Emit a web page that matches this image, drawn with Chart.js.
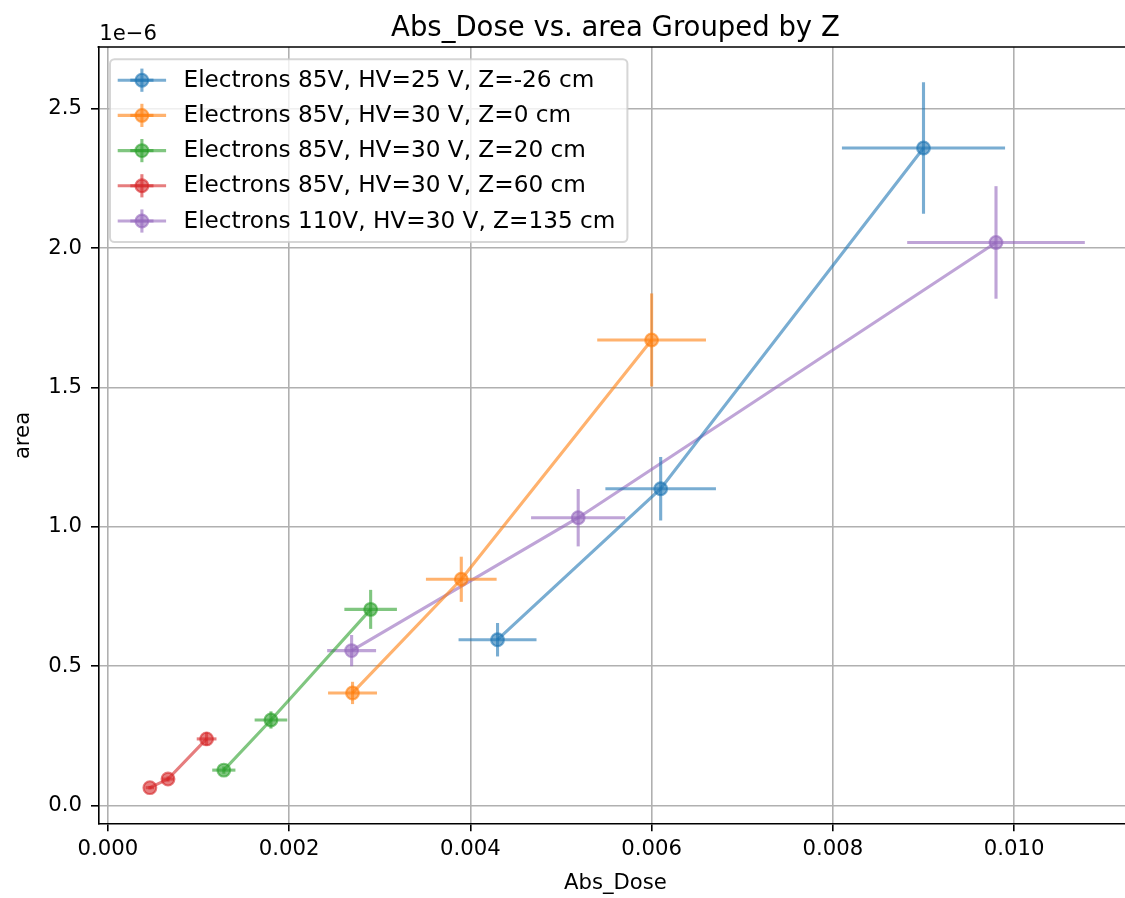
<!DOCTYPE html>
<html><head><meta charset="utf-8">
<script src="https://cdn.jsdelivr.net/npm/chart.js@4/dist/chart.umd.min.js"></script>
<style>
html,body{margin:0;padding:0;background:#fff;overflow:hidden;width:1125px;height:898px}
#wrap{width:1125px;height:898px;overflow:hidden;position:relative}
canvas{display:block}
</style></head>
<body><div id="wrap"><canvas id="c" width="1141" height="898" style="width:1141px;height:898px"></canvas></div>
<script>
// ---- data (area values in units of 1e-6) ----
const seriesNames = [
  'Electrons 85V, HV=25 V, Z=-26 cm',
  'Electrons 85V, HV=30 V, Z=0 cm',
  'Electrons 85V, HV=30 V, Z=20 cm',
  'Electrons 85V, HV=30 V, Z=60 cm',
  'Electrons 110V, HV=30 V, Z=135 cm'
];
const doseZm26 = [0.0043, 0.0061, 0.0090];
const areaZm26 = [0.595, 1.137, 2.36];
const doseErrZm26 = [0.00043, 0.00061, 0.00090];
const areaErrZm26 = [0.060, 0.114, 0.236];

const doseZ0 = [0.0027, 0.0039, 0.0060];
const areaZ0 = [0.404, 0.812, 1.671];
const doseErrZ0 = [0.00027, 0.00039, 0.00060];
const areaErrZ0 = [0.040, 0.081, 0.167];

const doseZ20 = [0.00128, 0.0018, 0.0029];
const areaZ20 = [0.127, 0.307, 0.704];
const doseErrZ20 = [0.000128, 0.00018, 0.00029];
const areaErrZ20 = [0.013, 0.031, 0.070];

const doseZ60 = [0.000464, 0.000664, 0.00109];
const areaZ60 = [0.064, 0.095, 0.239];
const doseErrZ60 = [0.000046, 0.000066, 0.000109];
const areaErrZ60 = [0.0064, 0.0095, 0.024];

const doseZ135 = [0.00269, 0.00519, 0.0098];
const areaZ135 = [0.556, 1.033, 2.021];
const doseErrZ135 = [0.00027, 0.00052, 0.00098];
const areaErrZ135 = [0.056, 0.103, 0.202];

const xTicks = [0, 0.002, 0.004, 0.006, 0.008, 0.010];
const yTicks = [0, 0.5, 1.0, 1.5, 2.0, 2.5];
const yOffsetText = '1e\u22126';
const chartTitle = 'Abs_Dose vs. area Grouped by Z';
const xLabel = 'Abs_Dose';
const yLabel = 'area';

// ---- styling ----
const FONT = 'DejaVu Sans';
const TICK_FS = 21.2;
const RGB = ['31,119,180','255,127,14','44,160,44','214,39,40','148,103,189'];
const ALPHA = 0.6;
const LW = 3.1;
const MR = 6.4;

const groups = [
  [doseZm26, areaZm26, doseErrZm26, areaErrZm26],
  [doseZ0, areaZ0, doseErrZ0, areaErrZ0],
  [doseZ20, areaZ20, doseErrZ20, areaErrZ20],
  [doseZ60, areaZ60, doseErrZ60, areaErrZ60],
  [doseZ135, areaZ135, doseErrZ135, areaErrZ135]
];

const datasets = groups.map((g, k) => {
  const col = 'rgba(' + RGB[k] + ',' + ALPHA + ')';
  return {
    label: seriesNames[k],
    data: g[0].map((x, i) => ({x: x, y: g[1][i]})),
    xerr: g[2], yerr: g[3],
    showLine: true,
    borderColor: col, backgroundColor: col,
    borderWidth: LW,
    pointRadius: MR, pointBorderWidth: 2.1,
    pointBackgroundColor: col, pointBorderColor: col,
    pointHoverRadius: MR
  };
});

const errPlugin = {
  id: 'errbars',
  beforeDatasetDraw(chart, args) {
    const ds = chart.data.datasets[args.index];
    const xs = chart.scales.x, ys = chart.scales.y, ctx = chart.ctx;
    ctx.save();
    ctx.strokeStyle = ds.borderColor; ctx.lineWidth = LW; ctx.lineCap = 'butt';
    ds.data.forEach((p, i) => {
      const px = xs.getPixelForValue(p.x), py = ys.getPixelForValue(p.y);
      ctx.beginPath();
      ctx.moveTo(xs.getPixelForValue(p.x - ds.xerr[i]), py);
      ctx.lineTo(xs.getPixelForValue(p.x + ds.xerr[i]), py);
      ctx.stroke();
      ctx.beginPath();
      ctx.moveTo(px, ys.getPixelForValue(p.y - ds.yerr[i]));
      ctx.lineTo(px, ys.getPixelForValue(p.y + ds.yerr[i]));
      ctx.stroke();
    });
    ctx.restore();
  }
};

const decorPlugin = {
  id: 'decor',
  afterDatasetsDraw(chart) {
    const ctx = chart.ctx, a = chart.chartArea;
    ctx.save();
    // top and right spines
    ctx.strokeStyle = '#000'; ctx.lineWidth = 1.6;
    ctx.beginPath();
    ctx.moveTo(a.left - 0.8, a.top); ctx.lineTo(a.right, a.top); ctx.lineTo(a.right, a.bottom);
    ctx.stroke();
    // title
    ctx.fillStyle = '#000';
    ctx.font = '27.5px "' + FONT + '"';
    ctx.textAlign = 'center'; ctx.textBaseline = 'alphabetic';
    ctx.fillText(chartTitle, (a.left + a.right) / 2, 36);
    // offset text
    ctx.font = TICK_FS + 'px "' + FONT + '"';
    ctx.textAlign = 'left';
    ctx.fillText(yOffsetText, a.left + 1, 40);

    // legend
    const fs = 23.2;
    ctx.font = fs + 'px "' + FONT + '"';
    const pad = 9.2, hl = 46.4, ls = 11.6, rowH = 23.6;
    let maxW = 0;
    chart.data.datasets.forEach(d => { maxW = Math.max(maxW, ctx.measureText(d.label).width); });
    const fx = a.left + 11.7, fy = a.top + 12.2;
    const n = chart.data.datasets.length;
    const textX = a.left + 85.2;
    const fw = textX + maxW + 12 - fx;
    const fh = pad * 2 + n * rowH + (n - 1) * ls;
    ctx.beginPath();
    ctx.roundRect(fx, fy, fw, fh, 4.5);
    ctx.fillStyle = 'rgba(255,255,255,0.8)'; ctx.fill();
    ctx.strokeStyle = 'rgba(204,204,204,0.8)'; ctx.lineWidth = 2; ctx.stroke();
    chart.data.datasets.forEach((d, k) => {
      const cy = fy + pad + k * (rowH + ls) + rowH / 2;
      const x0 = fx + pad - 1.5, x1 = x0 + hl + 2, cx = (x0 + x1) / 2;
      ctx.strokeStyle = d.borderColor; ctx.lineWidth = LW;
      ctx.beginPath(); ctx.moveTo(cx - 0.5 * fs, cy); ctx.lineTo(cx + 0.5 * fs, cy); ctx.stroke();
      ctx.beginPath(); ctx.moveTo(cx, cy - 0.5 * fs); ctx.lineTo(cx, cy + 0.5 * fs); ctx.stroke();
      ctx.beginPath(); ctx.moveTo(x0, cy); ctx.lineTo(x1, cy); ctx.stroke();
      ctx.beginPath(); ctx.arc(cx, cy, MR, 0, Math.PI * 2);
      ctx.fillStyle = d.borderColor; ctx.fill();
      ctx.lineWidth = 2.1; ctx.stroke();
      ctx.fillStyle = '#000'; ctx.textAlign = 'left'; ctx.textBaseline = 'middle';
      ctx.fillText(d.label, textX, cy + 0.5);
    });
    ctx.restore();
  }
};

// axis limits (matplotlib autoscale with 5% margins)
const XMIN = -0.000105, XMAX = 0.011306;
const YMIN = -0.0664, YMAX = 2.7225;

new Chart(document.getElementById('c'), {
  type: 'scatter',
  data: { datasets: datasets },
  plugins: [errPlugin, decorPlugin],
  options: {
    responsive: false, animation: false,
    layout: { padding: { top: 47, left: 0, right: 0, bottom: 0 } },
    plugins: { legend: { display: false }, title: { display: false }, tooltip: { enabled: false } },
    scales: {
      x: {
        type: 'linear', min: XMIN, max: XMAX,
        afterBuildTicks: s => { s.ticks = xTicks.map(v => ({ value: v })); },
        afterFit: s => { s.height = 74; },
        grid: { color: '#b0b0b0', lineWidth: 1.6, tickColor: '#000', tickLength: 7.3, tickWidth: 1.6 },
        border: { color: '#000', width: 1.6 },
        ticks: { color: '#000', font: { family: FONT, size: TICK_FS }, padding: 5, maxRotation: 0, autoSkip: false,
                 callback: v => v.toFixed(3) },
        title: { display: true, text: xLabel, color: '#000', font: { family: FONT, size: TICK_FS }, padding: { top: 0, bottom: 2 } }
      },
      y: {
        type: 'linear', min: YMIN, max: YMAX,
        afterBuildTicks: s => { s.ticks = yTicks.map(v => ({ value: v })); },
        afterFit: s => { s.width = 98.3; },
        grid: { color: '#b0b0b0', lineWidth: 1.6, tickColor: '#000', tickLength: 7.3, tickWidth: 1.6 },
        border: { color: '#000', width: 1.6 },
        ticks: { color: '#000', font: { family: FONT, size: TICK_FS }, padding: 9, autoSkip: false,
                 callback: v => v.toFixed(1) },
        title: { display: true, text: yLabel, color: '#000', font: { family: FONT, size: TICK_FS }, padding: { top: 11, bottom: 0 } }
      }
    }
  }
});
</script>
</body></html>
